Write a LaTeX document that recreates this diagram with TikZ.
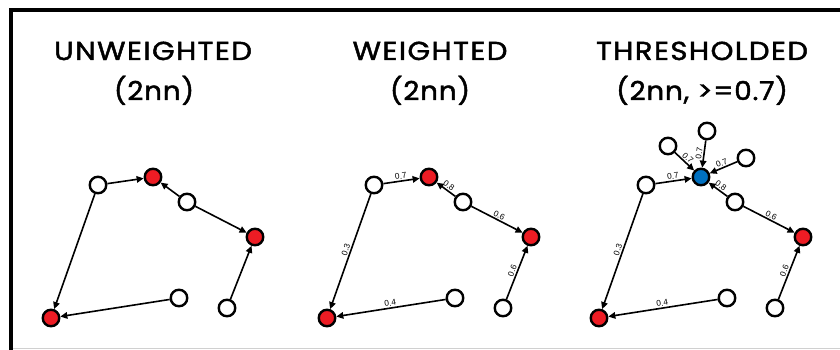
\documentclass[tikz,border=0pt]{standalone}
\usepackage{fontspec}
\setmainfont{Liberation Sans}
\newfontfamily\titlefont[FakeBold=1.6,LetterSpace=5]{Poppins}
\newfontfamily\subtitlefont[FakeBold=1.6,LetterSpace=3]{Poppins}
\usetikzlibrary{arrows.meta}
\definecolor{nred}{HTML}{ED1C24}
\definecolor{nblue}{HTML}{0070C0}
\definecolor{rulegray}{HTML}{D0D0D0}
\newcommand{\ttltext}[1]{\scalebox{1.12}[1]{#1}}
\newcommand{\subtext}[1]{\scalebox{1.07}[1]{#1}}
\begin{document}
\begin{tikzpicture}[x=1pt,y=-1pt,
  vtx/.style={circle,draw=black,line width=2.4pt,minimum size=16.5pt,inner sep=0pt,fill=white},
  redv/.style={vtx,fill=nred},
  bluev/.style={vtx,fill=nblue},
  arr/.style={line width=1.6pt,-{Triangle[length=7pt,width=6.5pt]}},
  lbl/.style={font=\fontsize{8.3}{8.3}\selectfont,sloped,above,inner sep=1.2pt},
  ttl/.style={font=\titlefont\fontsize{26}{30}\selectfont,anchor=base,inner sep=0pt},
  sttl/.style={font=\subtitlefont\fontsize{26}{30}\selectfont,anchor=base,inner sep=0pt}]
\useasboundingbox (0,0) rectangle (840,350);
\fill[white] (0,0) rectangle (840,350);
% frame
\coordinate (fbl) at (11,350);
\coordinate (ftl) at (11,10);
\coordinate (ftr) at (840,10);
\draw[line width=4pt] (fbl) -- (ftl) -- (ftr);
\coordinate (gl) at (13,348.5);
\coordinate (gr) at (840,348.5);
\draw[rulegray,line width=1.5pt] (gl) -- (gr);
% titles
\node[ttl]  (t1a) at (153,60) {\ttltext{UNWEIGHTED}};
\node[sttl] (t1b) at (154,100) {\subtext{(2nn)}};
\node[ttl]  (t2a) at (430,60) {\ttltext{WEIGHTED}};
\node[sttl] (t2b) at (430,100) {\subtext{(2nn)}};
\node[ttl]  (t3a) at (702,60) {\ttltext{THRESHOLDED}};
\node[sttl] (t3b) at (702,100) {\subtext{(2nn, >=0.7)}};
% panel 1
\begin{scope}[name prefix=p1-]
\node[vtx]  (A) at (98,185) {};
\node[redv] (B) at (153,177) {};
\node[vtx]  (C) at (187,202) {};
\node[redv] (D) at (255,237) {};
\node[redv] (E) at (51,318) {};
\node[vtx]  (F) at (179,298) {};
\node[vtx]  (G) at (227,308) {};
\draw[arr] (A) -- (B);
\draw[arr] (C) -- (B);
\draw[arr] (C) -- (D);
\draw[arr] (A) -- (E);
\draw[arr] (F) -- (E);
\draw[arr] (G) -- (D);
\end{scope}
% panel 2
\begin{scope}[xshift=276pt,name prefix=p2-]
\node[vtx]  (A) at (98,185) {};
\node[redv] (B) at (153,177) {};
\node[vtx]  (C) at (187,202) {};
\node[redv] (D) at (255,237) {};
\node[redv] (E) at (51,318) {};
\node[vtx]  (F) at (179,298) {};
\node[vtx]  (G) at (227,308) {};
\draw[arr] (A) -- node[lbl]{0.7} (B);
\draw[arr] (C) -- node[lbl]{0.8} (B);
\draw[arr] (C) -- node[lbl]{0.6} (D);
\draw[arr] (A) -- node[lbl]{0.3} (E);
\draw[arr] (F) -- node[lbl]{0.4} (E);
\draw[arr] (G) -- node[lbl]{0.6} (D);
\end{scope}
% panel 3
\begin{scope}[xshift=548pt,name prefix=p3-]
\node[vtx]   (A) at (98,185) {};
\node[bluev] (B) at (153,177) {};
\node[vtx]   (C) at (187,202) {};
\node[redv]  (D) at (255,237) {};
\node[redv]  (E) at (51,318) {};
\node[vtx]   (F) at (179,298) {};
\node[vtx]   (G) at (227,308) {};
\node[vtx]   (H1) at (120,146) {};
\node[vtx]   (H2) at (159,131) {};
\node[vtx]   (H3) at (198,158) {};
\draw[arr] (A) -- node[lbl]{0.7} (B);
\draw[arr] (C) -- node[lbl]{0.8} (B);
\draw[arr] (C) -- node[lbl]{0.6} (D);
\draw[arr] (A) -- node[lbl]{0.3} (E);
\draw[arr] (F) -- node[lbl]{0.4} (E);
\draw[arr] (G) -- node[lbl]{0.6} (D);
\draw[arr] (H1) -- node[lbl]{0.7} (B);
\draw[arr] (H2) -- node[lbl]{0.7} (B);
\draw[arr] (H3) -- node[lbl]{0.7} (B);
\end{scope}
\end{tikzpicture}
\end{document}
